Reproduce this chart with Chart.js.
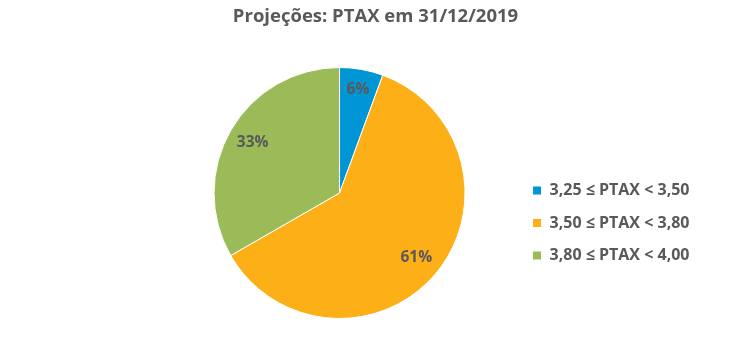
<!DOCTYPE html>
<html>
<head>
<meta charset="utf-8">
<script src="https://cdn.jsdelivr.net/npm/chart.js@4/dist/chart.umd.min.js"></script>
<style>
html,body{margin:0;padding:0;background:#fff;}
#wrap{width:751px;height:357px;}
</style>
</head>
<body>
<div id="wrap"><canvas id="c" width="751" height="357"></canvas></div>
<script>
const categories = ["3,25 \u2264 PTAX < 3,50", "3,50 \u2264 PTAX < 3,80", "3,80 \u2264 PTAX < 4,00"];
const shares = [5.6, 61.1, 33.3];
const colors = ["#0096D6", "#FCAF17", "#9BBB59"];
const titleText = "Projeções: PTAX em 31/12/2019";
const FONT = "'Open Sans', 'Liberation Sans', Arial, sans-serif";

const labelPlugin = {
  id: 'sliceLabels',
  afterDatasetsDraw(chart) {
    const ctx = chart.ctx;
    const meta = chart.getDatasetMeta(0);
    const total = shares.reduce((a, b) => a + b, 0);
    ctx.save();
    ctx.font = "bold 15.5px " + FONT;
    ctx.fillStyle = "#595959";
    ctx.textAlign = "center";
    ctx.textBaseline = "middle";
    meta.data.forEach((arc, i) => {
      const p = arc.getProps(['x', 'y', 'startAngle', 'endAngle', 'outerRadius'], true);
      const mid = (p.startAngle + p.endAngle) / 2;
      const f = shares[i] / total < 0.1 ? 0.84 : 0.8;
      const r = p.outerRadius * f;
      const txt = Math.round(shares[i] / total * 100) + "%";
      ctx.fillText(txt, p.x + Math.cos(mid) * r, p.y + Math.sin(mid) * r);
    });
    // chart title, centred on the whole canvas
    ctx.font = "bold 18.5px " + FONT;
    ctx.textBaseline = "middle";
    ctx.fillText(titleText, chart.width / 2, 17);
    ctx.restore();
  }
};

new Chart(document.getElementById('c'), {
  type: 'pie',
  data: {
    labels: categories,
    datasets: [{
      data: shares,
      backgroundColor: colors,
      borderColor: "#ffffff",
      borderWidth: 1
    }]
  },
  options: {
    responsive: false,
    animation: false,
    devicePixelRatio: 1,
    layout: { padding: { left: 163, right: 51.5, top: 67, bottom: 38 } },
    plugins: {
      title: { display: false },
      legend: {
        position: 'right',
        align: 'center',
        title: { display: true, text: ' ', font: { size: 10 }, padding: { top: 0, bottom: 48 } },
        labels: {
          boxWidth: 9,
          boxHeight: 9,
          padding: 16.5,
          color: "#595959",
          font: { family: FONT, size: 16, weight: 'bold' }
        }
      },
      tooltip: { enabled: false }
    }
  },
  plugins: [labelPlugin]
});
</script>
</body>
</html>
